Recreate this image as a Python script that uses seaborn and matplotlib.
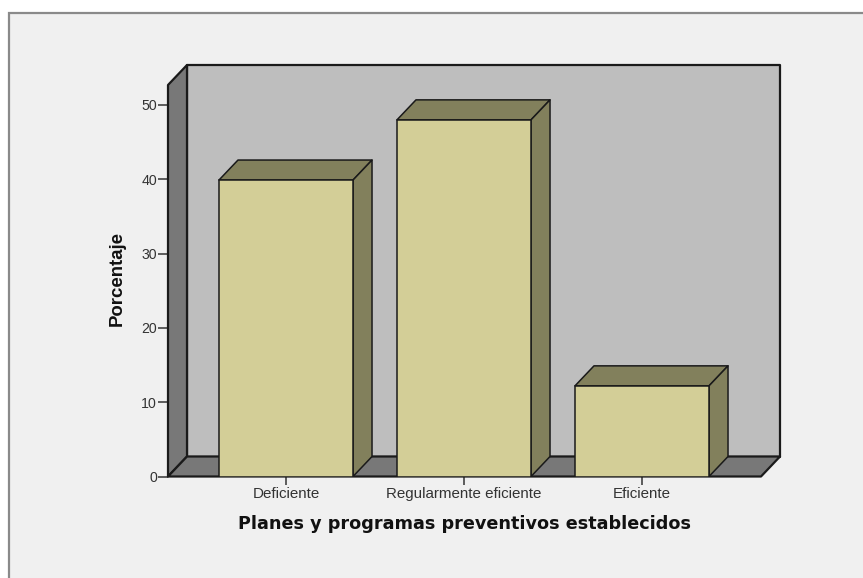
import matplotlib
matplotlib.use("Agg")
import matplotlib.pyplot as plt
from matplotlib.patches import Polygon, Rectangle
import seaborn as sns
import pandas as pd

categories = ["Deficiente", "Regularmente eficiente", "Eficiente"]
percentages = [39.9, 48.0, 12.2]
y_ticks = [0, 10, 20, 30, 40, 50]
x_label = "Planes y programas preventivos establecidos"
y_label = "Porcentaje"

W, H = 863, 578
sns.set_theme(style="white")
plt.rcParams["font.family"] = ["Liberation Sans", "DejaVu Sans"]

FRONT = "#D3CE97"
SHADE = "#82805C"
WALL = "#BEBEBE"
DARK = "#787878"
EDGE = "#1A1A1A"
BG = "#F0F0F0"

fig = plt.figure(figsize=(W / 100, H / 100), dpi=100, facecolor="white")
fig.add_artist(Rectangle((8.5 / W, -0.01), (W + 20) / W, 1 - 12.5 / H + 0.01,
                         transform=fig.transFigure, facecolor=BG,
                         edgecolor="#8A8A8A", linewidth=1.6, zorder=-5))

# axes box spans the front plane plus the depth of the back wall
L, R, T, B = 168, 780, 65, 476.5
ax = fig.add_axes([L / W, 1 - B / H, (R - L) / W, (B - T) / H])
px_x, px_y = 178.0, 7.43
df = pd.DataFrame({"cat": categories, "pct": percentages})
sns.barplot(data=df, x="cat", y="pct", ax=ax, width=0.753, color=FRONT,
            saturation=1, edgecolor=EDGE, linewidth=1.1, zorder=5)
ax.set_xlim((L - 286) / px_x, (R - 286) / px_x)
ax.set_ylim(0, (B - T) / px_y)
ax.patch.set_alpha(0)
DX, DY = 19 / px_x, 20 / px_y

x0, x1 = ax.get_xlim()
y1 = ax.get_ylim()[1]
xf = x1 - DX          # right end of the front floor edge
yf = y1 - DY          # top of the left wall at the front
wall_kw = dict(edgecolor=EDGE, linewidth=1.6, joinstyle="round", clip_on=False)
ax.add_patch(Polygon([(x0 + DX, DY), (x1, DY), (x1, y1), (x0 + DX, y1)],
                     facecolor=WALL, zorder=1, **wall_kw))
ax.add_patch(Polygon([(x0, 0), (x0 + DX, DY), (x0 + DX, y1), (x0, yf)],
                     facecolor=DARK, zorder=2, **wall_kw))
ax.add_patch(Polygon([(x0, 0), (xf, 0), (x1, DY), (x0 + DX, DY)],
                     facecolor=DARK, zorder=2, **wall_kw))

bar_kw = dict(facecolor=SHADE, edgecolor=EDGE, linewidth=1.1, joinstyle="round", zorder=4)
for bar in list(ax.patches)[:3]:
    a, b = bar.get_x(), bar.get_x() + bar.get_width()
    h = bar.get_height()
    ax.add_patch(Polygon([(a, h), (b, h), (b + DX, h + DY), (a + DX, h + DY)], **bar_kw))
    ax.add_patch(Polygon([(b, 0), (b + DX, DY), (b + DX, h + DY), (b, h)], **bar_kw))

for s in ax.spines.values():
    s.set_visible(False)
ax.set_yticks(y_ticks)
ax.set_xticks(range(len(categories)), categories)
ax.tick_params(axis="y", length=7.2, width=1.1, color="#333333", labelcolor="#333333",
               labelsize=10.2, left=True, pad=0.8)
ax.tick_params(axis="x", length=5.8, width=1.1, color="#333333", labelcolor="#333333",
               labelsize=10.9, bottom=True, pad=1.5)
ax.set_xlabel("")
ax.set_ylabel("")
fig.text(464 / W, 1 - 524 / H, x_label, ha="center", va="center", fontsize=12.7,
         fontweight="bold", family="DejaVu Sans", color="#111111")
fig.text(117.5 / W, 1 - 279 / H, y_label, ha="center", va="center", rotation=90,
         fontsize=13.4, fontweight="bold", color="#111111")

fig.savefig("out.png", dpi=100, facecolor="white")
